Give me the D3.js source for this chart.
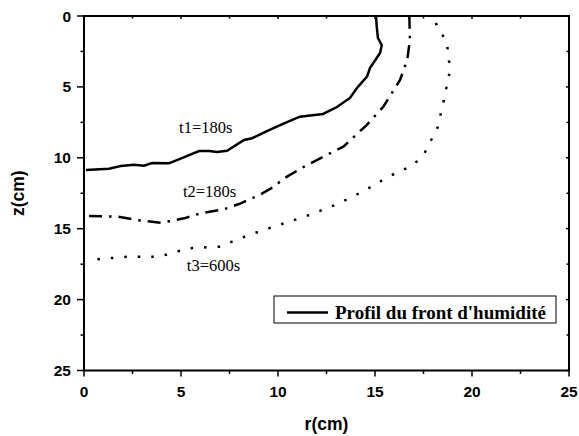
<!DOCTYPE html>
<html><head><meta charset="utf-8">
<script src="https://cdn.jsdelivr.net/npm/d3@7"></script>
<style>body{margin:0;background:#fff}svg{display:block}</style>
</head><body>
<script>
// Data (r in cm, z in cm)
const t1R = [0.1,1.29,1.89,2.58,3.09,3.51,4.38,4.98,5.93,6.44,6.86,7.37,8.25,8.66,9.37,10.31,11.13,12.32,13.04,13.71,14.07,14.59,14.74,15.26,15.35,15.15,15.09,15.05];
const t1Z = [10.86,10.77,10.58,10.49,10.56,10.37,10.39,10.06,9.52,9.52,9.59,9.50,8.74,8.62,8.16,7.57,7.10,6.91,6.42,5.78,5.08,4.28,3.67,2.61,2.05,1.55,0.75,0.0];
const t2R = [0.26,1.72,2.75,3.95,4.47,5.15,6.02,7.22,8.08,9.11,9.79,10.31,11.34,12.34,13.37,14.57,15.43,16.29,16.66,16.80,16.77];
const t2Z = [14.10,14.15,14.39,14.58,14.46,14.27,13.91,13.63,13.21,12.57,12.04,11.45,10.63,9.92,9.22,7.69,6.40,4.51,3.10,1.69,0.0];
const t3R = [0.69,2.23,3.87,5.41,6.96,8.51,10.05,11.48,12.94,14.37,15.69,16.97,17.53,18.23,18.56,18.87,18.70,18.23,18.0];
const t3Z = [17.16,16.97,16.97,16.38,16.27,15.44,14.74,14.10,13.33,12.39,11.33,10.51,9.73,7.85,5.87,3.81,1.81,0.83,0.0];
const labels = ["t1=180s","t2=180s","t3=600s"];
const labelPos = [[4.9,8.25],[5.1,12.75],[5.3,18.0]];
const xTicks = [0,5,10,15,20,25];
const yTicks = [0,5,10,15,20,25];
const minorTicks = [2.5,7.5,12.5,17.5,22.5];
const legendLabel = "Profil du front d'humidité";

const W=579,H=436, L=84,T=16,R=569,B=370.5;
const svg=d3.select("body").append("svg").attr("width",W).attr("height",H);
const x=d3.scaleLinear().domain([0,25]).range([L,R]);
const y=d3.scaleLinear().domain([0,25]).range([T,B]);

// ticks
const tk=svg.append("g").attr("stroke","#000").attr("stroke-width",1.5);
xTicks.forEach(v=>{tk.append("line").attr("x1",x(v)).attr("x2",x(v)).attr("y1",B).attr("y2",B+6);
  tk.append("line").attr("x1",x(v)).attr("x2",x(v)).attr("y1",T).attr("y2",T+3);});
minorTicks.forEach(v=>{tk.append("line").attr("x1",x(v)).attr("x2",x(v)).attr("y1",B).attr("y2",B+3.5);
  tk.append("line").attr("x1",x(v)).attr("x2",x(v)).attr("y1",T).attr("y2",T+2.5);});
yTicks.forEach(v=>{tk.append("line").attr("x1",L-7).attr("x2",L).attr("y1",y(v)).attr("y2",y(v));
  tk.append("line").attr("x1",R-3).attr("x2",R).attr("y1",y(v)).attr("y2",y(v));});
minorTicks.forEach(v=>{tk.append("line").attr("x1",L-3.5).attr("x2",L).attr("y1",y(v)).attr("y2",y(v));
  tk.append("line").attr("x1",R-2.5).attr("x2",R).attr("y1",y(v)).attr("y2",y(v));});

svg.append("rect").attr("x",L).attr("y",T).attr("width",R-L).attr("height",B-T)
  .attr("fill","none").attr("stroke","#000").attr("stroke-width",2);

const tf={"font-family":"'Liberation Sans',Arial,sans-serif","font-weight":"bold","font-size":"15.5px"};
function st(sel,o){for(const k in o)sel.attr(k,o[k]);return sel;}
xTicks.forEach(v=>st(svg.append("text"),tf).attr("x",x(v)).attr("y",B+26.5).attr("text-anchor","middle").text(v));
yTicks.forEach(v=>st(svg.append("text"),tf).attr("x",L-13).attr("y",y(v)+5.5).attr("text-anchor","end").text(v));
st(svg.append("text"),tf).attr("font-size","17.5px").attr("x",(L+R)/2).attr("y",430).attr("text-anchor","middle").text("r(cm)");
st(svg.append("text"),tf).attr("font-size","17.5px").attr("transform",`translate(24,${(T+B)/2}) rotate(-90)`).attr("text-anchor","middle").text("z(cm)");

const line=d3.line().x(d=>x(d[0])).y(d=>y(d[1]));
const zip=(a,b)=>a.map((v,i)=>[v,b[i]]);
const g=svg.append("g").attr("fill","none").attr("stroke","#000").attr("stroke-width",2.5);
g.append("path").attr("d",line(zip(t1R,t1Z)));
g.append("path").attr("d",line(zip(t2R,t2Z))).attr("stroke-dasharray","13,7,2.5,7");
g.append("path").attr("d",line(zip(t3R,t3Z))).attr("stroke-dasharray","2.5,11");

labels.forEach((s,i)=>svg.append("text").attr("x",x(labelPos[i][0])).attr("y",y(labelPos[i][1]))
  .attr("font-family","'Liberation Serif','Times New Roman',serif").attr("font-size","16.5px").text(s));

// legend
svg.append("rect").attr("x",274).attr("y",296).attr("width",282).attr("height",27)
  .attr("fill","#fff").attr("stroke","#000").attr("stroke-width",1);
svg.append("line").attr("x1",287).attr("x2",328).attr("y1",312.5).attr("y2",312.5).attr("stroke","#000").attr("stroke-width",2.5);
svg.append("text").attr("x",335).attr("y",318.5).attr("font-family","'Liberation Serif','Times New Roman',serif")
  .attr("font-weight","bold").attr("font-size","19px").text(legendLabel);
</script>
</body></html>
